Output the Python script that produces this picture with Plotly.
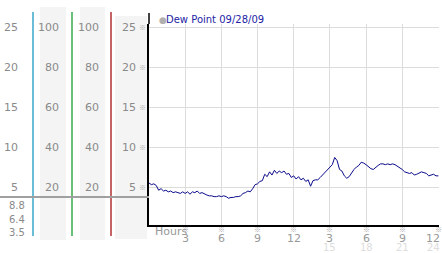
import plotly.graph_objects as go

# ---- data ----
hours = [0.0, 0.2, 0.4, 0.6, 0.8, 1.0, 1.2, 1.4, 1.6, 1.8,
         2.0, 2.2, 2.4, 2.6, 2.8, 3.0, 3.2, 3.4, 3.6, 3.8,
         4.0, 4.2, 4.4, 4.6, 4.8, 5.0, 5.2, 5.4, 5.6, 5.8,
         6.0, 6.2, 6.4, 6.6, 6.8, 7.0, 7.2, 7.4, 7.6, 7.8,
         8.0, 8.2, 8.4, 8.6, 8.8, 9.0, 9.2, 9.4, 9.6, 9.8,
         10.0, 10.2, 10.4, 10.6, 10.8, 11.0, 11.2, 11.4, 11.6, 11.8,
         12.0, 12.2, 12.4, 12.6, 12.8, 13.0, 13.2, 13.4, 13.6, 13.8,
         14.0, 14.2, 14.4, 14.6, 14.8, 15.0, 15.2, 15.4, 15.6, 15.8,
         16.0, 16.2, 16.4, 16.6, 16.8, 17.0, 17.2, 17.4, 17.6, 17.8,
         18.0, 18.2, 18.4, 18.6, 18.8, 19.0, 19.2, 19.4, 19.6, 19.8,
         20.0, 20.2, 20.4, 20.6, 20.8, 21.0, 21.2, 21.4, 21.6, 21.8,
         22.0, 22.2, 22.4, 22.6, 22.8, 23.0, 23.2, 23.4, 23.6, 23.8,
         24.0]
dew_point = [5.5, 5.3, 5.4, 5.2, 4.6, 4.8, 4.5, 4.6, 4.4, 4.5,
             4.3, 4.4, 4.3, 4.2, 4.4, 4.2, 4.4, 4.1, 4.4, 4.3,
             4.5, 4.2, 4.3, 4.1, 4.0, 3.9, 3.9, 3.8, 3.8, 3.9,
             3.8, 3.9, 3.8, 3.6, 3.7, 3.7, 3.8, 3.8, 3.9, 4.2,
             4.3, 4.5, 4.4, 4.8, 5.3, 5.4, 5.7, 5.8, 6.6, 6.3,
             6.9, 6.5, 7.1, 6.7, 7.0, 6.8, 7.0, 6.6, 6.7, 6.2,
             6.4, 6.0, 6.3, 5.9, 6.1, 5.7, 5.9, 5.1, 5.8, 5.9,
             5.9, 6.2, 6.5, 6.8, 7.1, 7.4, 7.8, 8.7, 8.3, 7.2,
             7.0, 6.4, 6.1, 6.3, 6.8, 7.2, 7.5, 7.7, 8.1, 8.0,
             7.8, 7.5, 7.3, 7.2, 7.5, 7.7, 7.9, 7.9, 7.8, 7.9,
             7.8, 7.9, 7.8, 7.6, 7.5, 7.2, 6.9, 6.8, 6.7, 6.8,
             6.5, 6.6, 6.8, 6.9, 6.8, 6.7, 6.4, 6.5, 6.6, 6.4,
             6.4]
series_name = "Dew Point 09/28/09"

x_tickvals = [3, 6, 9, 12, 15, 18, 21, 24]
x_ticktext = ["3", "6", "9", "12", "3", "6", "9", "12"]
x_second_vals = [15, 18, 21, 24]
x_second_text = ["15", "18", "21", "24"]

y_tickvals = [5, 10, 15, 20, 25]
temp_labels = ["5", "10", "15", "20", "25"]
pct_labels = ["20", "40", "60", "80", "100"]
stat_labels = ["8.8", "6.4", "3.5"]

# ---- geometry helpers (pixel -> paper) ----
W, H = 442, 253
ML, MR, MT, MB = 0, 3, 24, 28
PW = W - ML - MR
PH = H - MT - MB
def px(x):
    return (x - ML) / PW
def py(y):
    return (H - MB - y) / PH

FONT = "DejaVu Sans"
MARKFONT = "Noto Sans CJK SC"
fig = go.Figure()
fig.add_trace(go.Scatter(x=hours, y=dew_point, mode="lines",
                         line=dict(color="#0a0a8c", width=1),
                         name=series_name, showlegend=False,
                         hoverinfo="skip"))

shapes = []
# column backgrounds
for x0, x1, y0, y1 in [(40, 66, 7, 240), (80, 105, 7, 240), (115, 147, 16, 239)]:
    shapes.append(dict(type="rect", xref="paper", yref="paper",
                       x0=px(x0), x1=px(x1), y0=py(y1), y1=py(y0),
                       fillcolor="#f4f4f4", line=dict(width=0), layer="below"))
# colored vertical lines
for xx, col in [(33, "#3aa6c8"), (72, "#3aa84a"), (111, "#b03030")]:
    shapes.append(dict(type="line", xref="paper", yref="paper",
                       x0=px(xx), x1=px(xx), y0=py(236), y1=py(12),
                       line=dict(color=col, width=1.5)))
# gray horizontal separator
shapes.append(dict(type="line", xref="paper", yref="paper",
                   x0=0, x1=px(149), y0=py(197), y1=py(197),
                   line=dict(color="#a0a0a0", width=2)))
# black axis line extension above plot
shapes.append(dict(type="line", xref="paper", yref="paper",
                   x0=px(149), x1=px(149), y0=1, y1=py(13),
                   line=dict(color="black", width=1.5)))

ann = []
def A(text, x, y, xref="paper", yref="paper", size=11, color="#8a8a8a",
      xanchor="right", yanchor="middle", family=FONT, xshift=0):
    ann.append(dict(text=text, x=x, y=y, xref=xref, yref=yref, showarrow=False,
                    font=dict(family=family, size=size, color=color),
                    xanchor=xanchor, yanchor=yanchor, xshift=xshift))

for v, t, p in zip(y_tickvals, temp_labels, pct_labels):
    A(t, px(20), v, yref="y")
    A(p, px(61), v, yref="y")
    A(p, px(101), v, yref="y")
    A(t, px(138), v, yref="y")
    A("※", px(148), v, yref="y", size=7, color="#aaaaaa", family=MARKFONT)
for t, yy in zip(stat_labels, [205, 219, 232]):
    A(t, px(27), py(yy), size=10)
for v in x_tickvals:
    A("※", v, py(229), xref="x", size=7, color="#aaaaaa", xanchor="center",
      family=MARKFONT)
# axis tick labels (last one kept inside the page edge)
for v, t in zip(x_tickvals, x_ticktext):
    last = v == x_tickvals[-1]
    A(t, v, py(238.5), xref="x", color="#999999",
      xanchor="right" if last else "center", xshift=4 if last else 0)
for v, t in zip(x_second_vals, x_second_text):
    last = v == x_second_vals[-1]
    A(t, v, py(247.5), xref="x", size=10, color="#dddddd",
      xanchor="right" if last else "center", xshift=4 if last else 0)
A("Hours", px(153), py(231), color="#999999", xanchor="left")
A("<span style='color:#b0b0b0'>●</span>", px(157), py(20), size=9, xanchor="left")
A(series_name, px(164), py(19.5), size=10, color="#2323a6", xanchor="left")

fig.update_layout(
    width=W, height=H,
    margin=dict(l=ML, r=MR, t=MT, b=MB),
    paper_bgcolor="white", plot_bgcolor="white",
    shapes=shapes, annotations=ann,
    xaxis=dict(domain=[px(149), 1], range=[0, 24.05], tickvals=x_tickvals,
               showticklabels=False, showgrid=True, gridcolor="#dcdcdc",
               gridwidth=1, showline=True, linecolor="black", linewidth=1.5,
               zeroline=False, ticks=""),
    yaxis=dict(range=[0.25, 25.4], tickvals=y_tickvals, showticklabels=False,
               showgrid=True, gridcolor="#dcdcdc", gridwidth=1,
               showline=True, linecolor="black", linewidth=1.5,
               zeroline=False, ticks=""),
)
fig.write_html("out.html")
